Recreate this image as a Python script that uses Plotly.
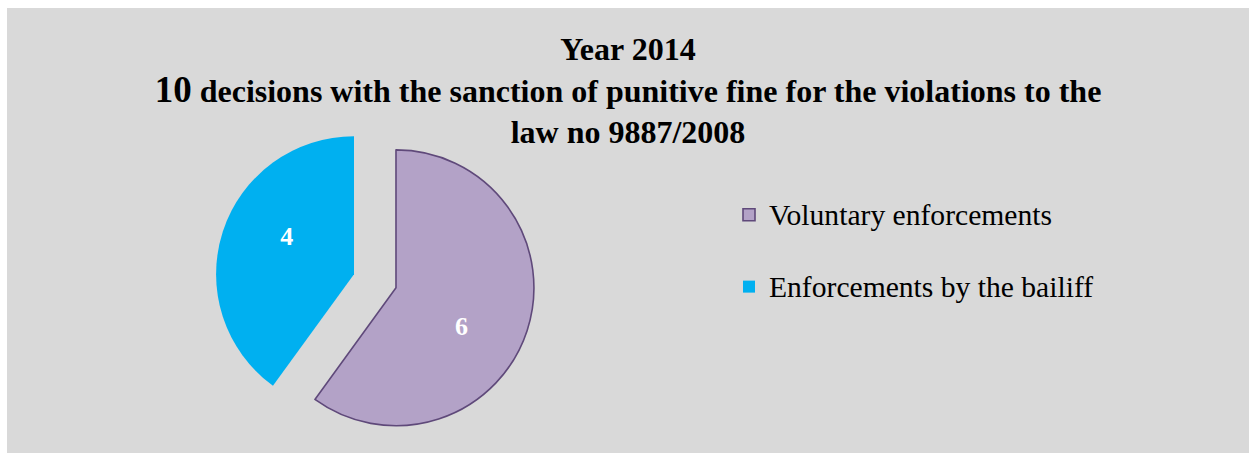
import plotly.graph_objects as go

# Data
labels = ["Voluntary enforcements", "Enforcements by the bailiff"]
values = [6, 4]
colors = ["#b3a2c7", "#00b0f0"]
outline_colors = ["#5f497a", "#00b0f0"]
outline_widths = [1.6, 0]

W, H = 1249, 453
BG = "#d9d9d9"
SERIF = "Liberation Serif, Times New Roman, serif"

fig = go.Figure()

fig.add_trace(go.Pie(
    # legend entries: larger label text, spacing driven by the legend's base font
    labels=["<span style='font-size:29.6px'>%s</span><br> " % lab for lab in labels],
    values=values,
    sort=False,
    direction="clockwise",
    rotation=0,
    pull=[0.16, 0.16],
    marker=dict(colors=colors, line=dict(color=outline_colors, width=outline_widths)),
    texttemplate=[" <br>%{value}", "%{value}<br><span style='font-size:14px'> </span>"],
    textposition="inside",
    insidetextorientation="horizontal",
    textfont=dict(family=SERIF, size=26, color="white", weight="bold"),
    domain=dict(x=[215 / W, 535 / W], y=[12 / H, 332 / H]),
    hovertemplate="%{value}<extra></extra>",
))

title_text = (
    "<b>Year 2014<br>"
    "<span style='font-size:37px'>10</span> decisions with the sanction of punitive fine for the violations to the<br>"
    "law no 9887/2008</b>"
)

fig.update_layout(
    width=W,
    height=H,
    margin=dict(l=0, r=0, t=0, b=0),
    paper_bgcolor="white",
    plot_bgcolor="white",
    title=dict(
        text=title_text,
        x=628 / W,
        xanchor="center",
        y=1 - 60 / H,
        yanchor="top",
        font=dict(family=SERIF, size=32, color="black"),
    ),
    legend=dict(
        x=729 / W,
        xanchor="left",
        y=1 - 191 / H,
        yanchor="top",
        valign="top",
        font=dict(family=SERIF, size=26.5, color="black"),
        bgcolor="rgba(0,0,0,0)",
    ),
    shapes=[dict(
        type="rect", xref="paper", yref="paper",
        x0=7 / W, x1=1, y0=0, y1=1 - 8 / H,
        fillcolor=BG, line=dict(width=0), layer="below",
    )],
)

fig.write_html("out.html")
